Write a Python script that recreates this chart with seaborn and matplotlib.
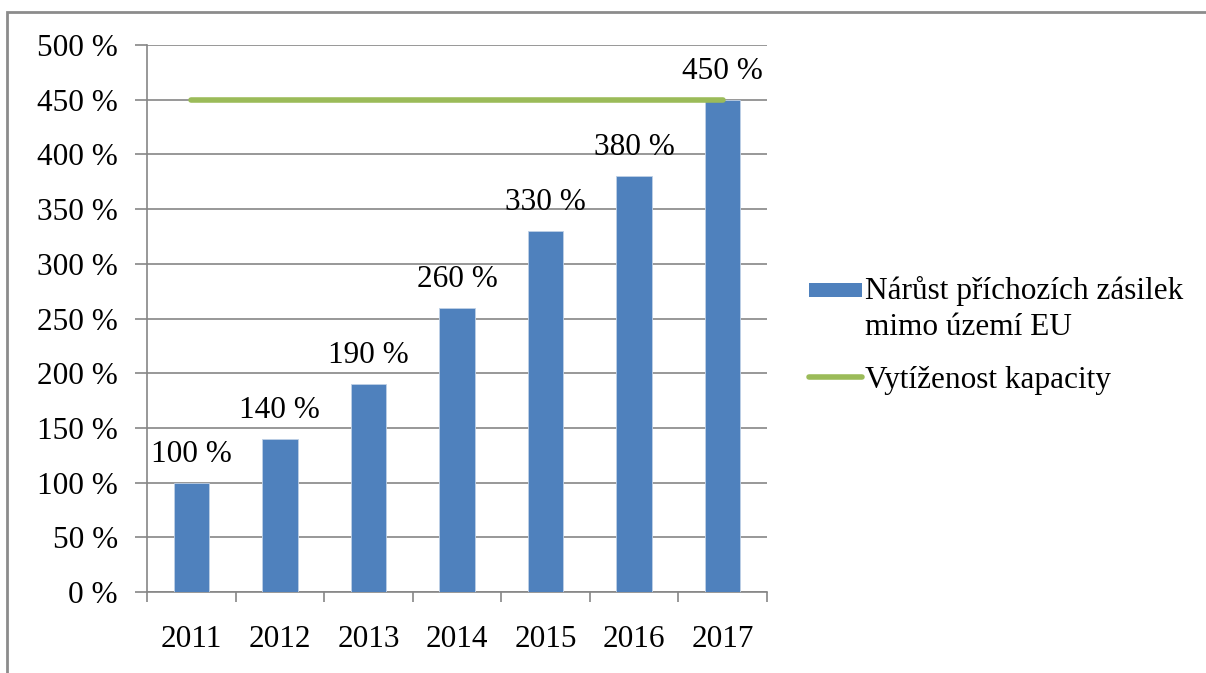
import matplotlib
matplotlib.use("Agg")
import matplotlib.pyplot as plt
import seaborn as sns
import numpy as np
from matplotlib.patches import Patch, Rectangle
from matplotlib.lines import Line2D
from matplotlib.legend_handler import HandlerPatch
from matplotlib.ticker import FuncFormatter, MultipleLocator

years = ["2011", "2012", "2013", "2014", "2015", "2016", "2017"]
growth = [100, 140, 190, 260, 330, 380, 450]
capacity = [450, 450, 450, 450, 450, 450, 450]
growth_label = "Nárůst příchozích zásilek\nmimo území EU"
capacity_label = "Vytíženost kapacity"

sns.set_theme(style="white")
plt.rcParams['font.family'] = ['Liberation Serif', 'DejaVu Serif']
plt.rcParams['font.size'] = 22.5
plt.rcParams['text.color'] = 'black'

FS = 22.5
BAR = "#4F81BD"
LINE = "#9BBB59"
GRID = "#868686"

fig = plt.figure(figsize=(12.06, 6.73), dpi=100)
fig.patch.set_facecolor("white")
fig.patches.append(Rectangle((7/1206, -0.1), 1.2, 1 - 12/673 + 0.1, transform=fig.transFigure,
                             fill=False, edgecolor="#8c8c8c", linewidth=2, zorder=0))
ax = fig.add_axes([147/1206, 81/673, 620/1206, 547/673])
ax.set_facecolor("none")

sns.barplot(x=years, y=growth, color=BAR, width=0.4, saturation=1, ax=ax, zorder=3,
            edgecolor="#BFD0E6", linewidth=0.6)
sns.lineplot(x=years, y=capacity, color=LINE, linewidth=4, ax=ax, zorder=4,
             solid_capstyle="round")

container = ax.containers[0]
ax.bar_label(container, labels=[f"{v} %" for v in growth], padding=10, fontsize=FS, color="black")

ax.set_ylim(0, 500)
ax.set_xlim(-0.5, len(years) - 0.5)
ax.yaxis.set_major_locator(MultipleLocator(50))
ax.yaxis.set_major_formatter(FuncFormatter(lambda v, p: f"{int(v)} %"))
ax.grid(axis="y", color=GRID, linewidth=1.2, zorder=0)
ax.set_axisbelow(True)
for s in ["top", "right"]:
    ax.spines[s].set_visible(False)
for s in ["left", "bottom"]:
    ax.spines[s].set_color(GRID)
    ax.spines[s].set_linewidth(1.2)

ax.set_xticks(np.arange(len(years)))
ax.set_xticklabels(years)
ax.set_xticks(np.arange(-0.5, len(years)), minor=True)
ax.tick_params(axis="x", which="major", bottom=False, length=0, pad=24, labelsize=FS, labelcolor="black")
ax.tick_params(axis="x", which="minor", bottom=True, length=7, width=1.2, color=GRID, direction="out")
ax.tick_params(axis="y", which="major", left=True, length=9, width=1.2, color=GRID, direction="out",
               pad=12, labelsize=FS, labelcolor="black")
ax.set_xlabel("")
ax.set_ylabel("")


def patch_top(legend, orig_handle, xdescent, ydescent, width, height, fontsize):
    return Rectangle((-xdescent, -ydescent + 0.72 * fontsize), width, 0.45 * fontsize)


handles = [Patch(facecolor=BAR, edgecolor="none"),
           Line2D([0], [0], color=LINE, linewidth=4, solid_capstyle="round")]
leg = fig.legend(handles, [growth_label, capacity_label], loc="upper left",
                 bbox_to_anchor=(796/1206, 1 - 263/673), frameon=False, fontsize=FS,
                 handlelength=1.7, handletextpad=0.1, labelspacing=0.78, borderaxespad=0,
                 handler_map={Patch: HandlerPatch(patch_func=patch_top)})
for t in leg.get_texts():
    t.set_color("black")
    t.set_linespacing(1.32)

fig.savefig("out.png", dpi=100)
